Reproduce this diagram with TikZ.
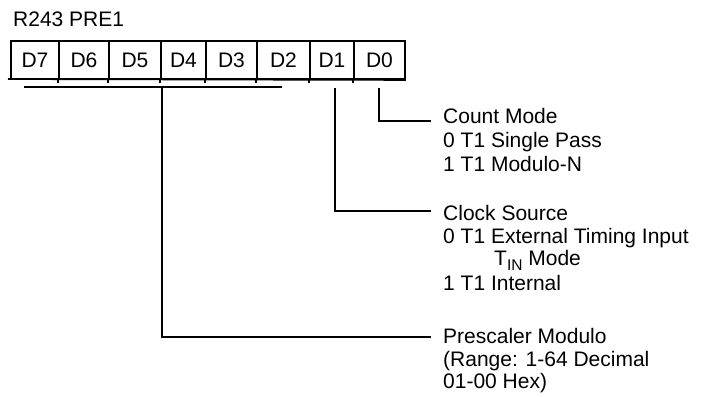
\documentclass[tikz,border=0pt]{standalone}
\usepackage{fontspec}
\setmainfont{Liberation Sans}
\begin{document}
\begin{tikzpicture}[x=1pt,y=-1pt,
  every node/.style={font=\fontsize{21}{24}\selectfont},
  cell/.style={draw, line width=1.8pt, minimum height=38pt, inner sep=0pt, anchor=center},
  lbl/.style={anchor=base west, inner sep=0pt},
  conn/.style={line width=1.8pt}]
\useasboundingbox (0,0) rectangle (701,396);
% title
\node[lbl] (title) at (13,27) {R243 PRE1};
% register cells
\node[cell, minimum width=48pt] (d7) at (35,60) {D7};
\node[cell, minimum width=50pt] (d6) at (84,60) {D6};
\node[cell, minimum width=52pt] (d5) at (135,60) {D5};
\node[cell, minimum width=45pt] (d4) at (183.5,60) {D4};
\node[cell, minimum width=51pt] (d3) at (231.5,60) {D3};
\node[cell, minimum width=53pt] (d2) at (283.5,60) {D2};
\node[cell, minimum width=44pt] (d1) at (332,60) {D1};
\node[cell, minimum width=51pt] (d0) at (379.5,60) {D0};
% bottom overhang and divider ticks
\draw[conn] (8,79) -- (d0.south east);
\foreach \n in {d6,d5,d4,d3,d2,d1,d0}
  \draw[line width=1.4pt] (\n.south west) -- ++(0,3);
% labels
\node[lbl] (cm1) at (443,123) {Count Mode};
\node[lbl] (cm2) at (443,147) {0 T1 Single Pass};
\node[lbl] (cm3) at (443,171) {1 T1 Modulo-N};
\node[lbl] (cs1) at (443,220) {Clock Source};
\node[lbl] (cs2) at (443,243) {0 T1 External Timing Input};
\node[lbl] (cs3) at (494,265) {T\raisebox{-5pt}{\fontsize{15.5}{16}\selectfont IN} Mode};
\node[lbl] (cs4) at (443,290) {1 T1 Internal};
\node[lbl] (ps1) at (443,343) {Prescaler Modulo};
\node[lbl] (ps2) at (443,366) {(Range: 1-64 Decimal};
\node[lbl] (ps3) at (443,388) {01-00 Hex)};
% connector ends
\coordinate (bl) at (24,87);
\coordinate (br) at (282,87);
\coordinate (bm) at (162,87);
\coordinate (pe) at (431,337);
\coordinate (ce) at (431,211);
\coordinate (me) at (431,121);
% connectors
\draw[conn] (bl) -- (br);
\draw[conn] (bm) |- (pe);
\draw[conn] (d1.south) ++(3,8) |- (ce);
\draw[conn] (d0.south) ++(-0.5,8) |- (me);
\end{tikzpicture}
\end{document}
